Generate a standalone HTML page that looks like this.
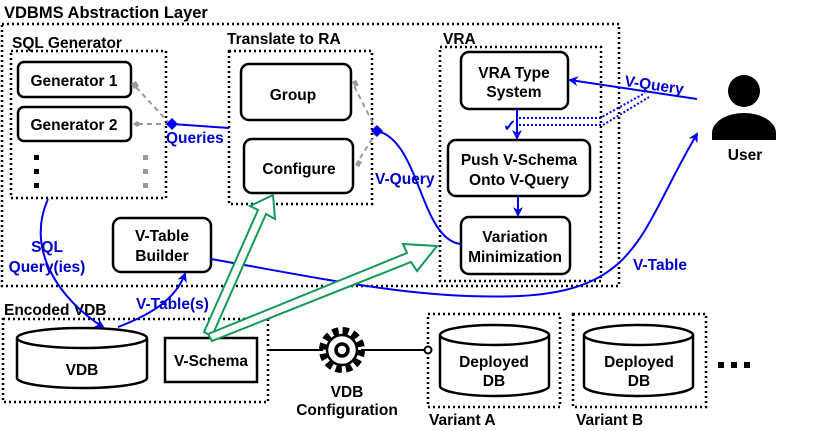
<!DOCTYPE html>
<html><head><meta charset="utf-8"><style>body{margin:0;background:#fff}svg{display:block}text{font-family:"Liberation Sans",sans-serif;font-weight:bold}</style></head><body>
<svg width="830" height="431" viewBox="0 0 830 431" xmlns="http://www.w3.org/2000/svg">
<defs>
<marker id="ab" markerWidth="10" markerHeight="10" refX="8" refY="5" orient="auto" markerUnits="userSpaceOnUse"><path d="M0,0 L10,5 L0,10 L3,5 z" fill="#0000ee"/></marker>
</defs>
<g fill="none" stroke="#000" stroke-width="2.5" stroke-dasharray="2,3">
<rect x="2" y="24" width="617" height="262"/>
<rect x="11" y="51" width="155" height="147"/>
<rect x="229" y="51" width="143" height="153"/>
<rect x="440" y="47" width="161" height="234"/>
<rect x="3" y="319" width="265" height="83"/>
<rect x="428" y="314" width="132" height="93"/>
<rect x="573" y="314" width="133" height="93"/>
</g>
<g font-size="16.5" fill="#000">
<text x="4" y="18">VDBMS Abstraction Layer</text>
<text x="12" y="48" font-size="15.5">SQL Generator</text>
<text x="227" y="44" font-size="15.5">Translate to RA</text>
<text x="443" y="44" font-size="15.5">VRA</text>
<text x="4" y="315" font-size="15.5">Encoded VDB</text>
<text x="429" y="425" font-size="15.5">Variant A</text>
<text x="576" y="425" font-size="15.5">Variant B</text>
</g>
<g fill="#fff" stroke="#000" stroke-width="2.5">
<rect x="18" y="62" width="113" height="35" rx="6"/>
<rect x="18" y="107" width="113" height="34" rx="6"/>
<rect x="241" y="64" width="110" height="56" rx="8"/>
<rect x="244" y="139" width="109" height="54" rx="8"/>
<rect x="461" y="52" width="107" height="57" rx="8"/>
<rect x="448" y="140" width="142" height="56" rx="8"/>
<rect x="461" y="217" width="109" height="57" rx="8"/>
<rect x="113" y="218" width="98" height="54" rx="8"/>
<rect x="165" y="338" width="92" height="44"/>
<path d="M17,338 A65,10 0 0 1 147,338 L147,378 A65,10 0 0 1 17,378 Z"/><path d="M17,338 A65,10 0 0 0 147,338" fill="none"/>
<path d="M440,335 A54.5,10 0 0 1 549,335 L549,386 A54.5,10 0 0 1 440,386 Z"/><path d="M440,335 A54.5,10 0 0 0 549,335" fill="none"/>
<path d="M584,335 A54.5,10 0 0 1 693,335 L693,386 A54.5,10 0 0 1 584,386 Z"/><path d="M584,335 A54.5,10 0 0 0 693,335" fill="none"/>
</g>
<g font-size="15.5" fill="#000" text-anchor="middle">
<text x="74" y="86">Generator 1</text>
<text x="74" y="130">Generator 2</text>
<text x="293" y="100">Group</text>
<text x="299" y="174">Configure</text>
<text x="514" y="78">VRA Type</text><text x="514" y="97">System</text>
<text x="519" y="165">Push V-Schema</text><text x="519" y="185">Onto V-Query</text>
<text x="515" y="242">Variation</text><text x="515" y="262">Minimization</text>
<text x="162" y="241">V-Table</text><text x="162" y="261">Builder</text>
<text x="211" y="366">V-Schema</text>
<text x="82" y="375">VDB</text>
<text x="494" y="367">Deployed</text><text x="494" y="386">DB</text>
<text x="639" y="367">Deployed</text><text x="639" y="386">DB</text>
<text x="347" y="397">VDB</text><text x="347" y="415">Configuration</text>
<text x="745" y="160">User</text>
</g>
<g fill="#000"><rect x="34" y="155" width="5" height="5"/><rect x="34" y="169" width="5" height="5"/><rect x="34" y="183" width="5" height="5"/>
<rect x="718" y="362" width="6" height="6"/><rect x="731" y="362" width="6" height="6"/><rect x="744" y="362" width="6" height="6"/></g>
<g fill="#999"><rect x="143" y="155" width="5" height="5"/><rect x="143" y="169" width="5" height="5"/><rect x="143" y="183" width="5" height="5"/></g>
<g stroke="#999" stroke-width="2" stroke-dasharray="5,4" fill="none">
<path d="M170,124 L135,86"/><path d="M170,124 L135,124"/>
<path d="M377,131 L353,84"/><path d="M377,131 L357,163"/>
</g>
<g fill="#999"><path d="M131,84 l5,-3 3,5 -5,3z"/><path d="M133,124 l4,-3 4,3 -4,3z"/><path d="M352,82 l4,-2 3,5 -4,2z"/><path d="M355,165 l3,-5 4,2 -3,5z"/></g>
<g stroke="#0000ee" stroke-width="2" fill="none">
<path d="M229,128 L172,124"/>
<path d="M377,131 C420,140 420,240 461,244"/>
<path d="M48,199 C25,250 60,300 103,327" marker-end="url(#ab)"/>
<path d="M118,327 C150,315 175,300 185,274" marker-end="url(#ab)"/>
<path d="M211,259 C330,280 420,300 520,296 C640,290 640,230 697,134" marker-end="url(#ab)"/>
<path d="M697,99 L570,80" marker-end="url(#ab)"/>
<path d="M517,109 L517,138" marker-end="url(#ab)"/>
<path d="M518,196 L518,215" marker-end="url(#ab)"/>
</g>
<g stroke="#0000ee" stroke-width="2" stroke-dasharray="2,2" fill="none">
<path d="M519,118 L600,118 L645,93"/><path d="M519,125 L603,125 L649,97"/>
</g>
<path d="M172,118 l6,6 -6,6 -6,-6z" fill="#0000ee"/>
<path d="M377,125 l6,6 -6,6 -6,-6z" fill="#0000ee"/>
<text x="503" y="131" font-size="16" fill="#0000ee" font-weight="normal">✓</text>
<g font-size="15.5" fill="#0000cc">
<text x="166" y="143">Queries</text>
<text x="375" y="184">V-Query</text>
<text x="47" y="252" text-anchor="middle">SQL</text><text x="47" y="272" text-anchor="middle">Query(ies)</text>
<text x="136" y="309">V-Table(s)</text>
<text x="633" y="270">V-Table</text>
<text x="624" y="86" transform="rotate(8 624 86)">V-Query</text>
</g>
<g stroke="#119955" stroke-width="2" fill="#fff" stroke-linejoin="miter">
<path d="M204,332 L258,210 L250,206 L273,195 L275,219 L266,214 L212,336 Z"/>
<path d="M208,334 L407,253 L403,244 L437,246 L417,271 L411,262 L212,341 Z"/>
</g>
<path d="M268,350 L425,350" stroke="#000" stroke-width="2"/>
<circle cx="428" cy="350" r="3.5" fill="#fff" stroke="#000" stroke-width="2"/>
<g transform="translate(342,350)">
<circle r="19" fill="#fff" stroke="#000" stroke-width="8" stroke-dasharray="6,4"/>
<circle r="15" fill="#fff" stroke="#000" stroke-width="2.5"/>
<circle r="6" fill="#fff" stroke="#000" stroke-width="3.5"/>
</g>
<circle cx="744" cy="91" r="16" fill="#000"/>
<path d="M712,140 L712,133 A32,20 0 0 1 776,133 L776,140 Z" fill="#000"/>
</svg>
</body></html>
